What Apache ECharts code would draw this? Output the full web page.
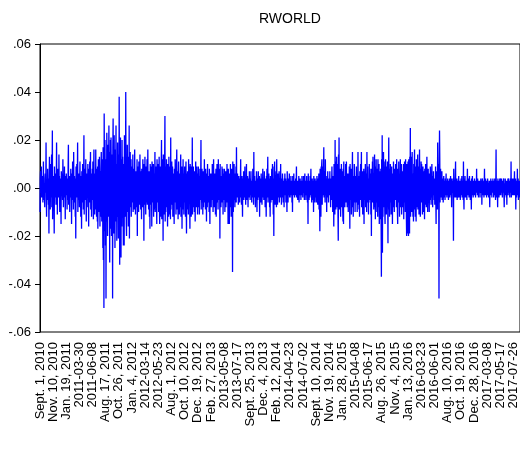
<!DOCTYPE html>
<html>
<head>
<meta charset="utf-8">
<script src="https://cdn.jsdelivr.net/npm/echarts@6/dist/echarts.min.js"></script>
<style>html,body{margin:0;padding:0;background:#fff}#c{width:520px;height:450px}</style>
</head>
<body>
<div id="c"></div>
<script>
// Daily returns, RWORLD, weekdays from 2010-09-01
const rworld = [
// 0-49
-.010,.004,.007,-.002,.003,.009,-.004,.001,-.003,.005,
.002,-.006,.003,.011,-.001,-.005,.002,.001,-.008,.004,
.006,-.002,.001,.019,-.004,-.012,.003,.002,-.005,.008,
-.001,.004,-.007,.002,-.019,.005,.013,-.002,.001,-.009,
.003,.010,-.004,-.001,.014,-.008,.002,.024,-.013,.002,
// 50-99
-.003,.005,.002,-.006,-.019,.009,.001,-.004,.006,-.002,
.003,-.007,.002,.019,-.005,.001,-.011,.004,.008,-.003,
.002,-.004,.014,-.001,.005,-.010,.002,.001,-.006,.004,
-.015,.007,.002,-.003,.006,-.001,-.005,.012,.003,-.008,
.004,.001,-.003,.009,-.004,.002,-.013,.005,.003,-.002,
// 100-149
.006,-.003,.001,-.009,.004,.002,-.005,.010,.018,-.007,
.002,-.003,.005,-.010,.003,.001,-.004,.008,-.001,.003,
-.015,.006,.002,-.005,.011,-.003,.004,-.009,.015,-.004,
.001,.005,-.006,.003,-.012,.004,-.021,.009,.002,-.004,
.010,-.003,.003,.019,-.010,.001,-.005,.006,-.002,.004,
// 150-199
-.008,.003,.011,-.004,.002,-.012,.005,.001,-.017,.007,
.003,-.006,.010,-.002,.004,-.009,.003,.022,-.011,.002,
-.004,.008,.001,-.005,.012,-.003,-.014,.006,.003,-.008,
.005,-.002,.010,-.004,.003,-.016,.008,.002,-.006,.011,
-.003,.004,.015,-.009,.001,.006,-.012,.003,-.003,.008,
// 200-249
-.005,.011,.003,-.013,.004,.016,-.008,.002,-.011,.006,
.003,-.009,.016,-.003,.008,-.012,.005,.001,-.014,.009,
-.017,.004,.012,-.006,.002,-.010,.013,.003,-.016,.007,
.003,-.012,.008,.015,-.007,-.014,.012,-.004,.006,-.025,
.017,-.030,.013,-.050,.031,.008,-.018,.020,.004,-.024,
// 250-299
.012,-.046,.010,-.008,.023,-.014,.006,-.020,.018,.003,
-.012,.009,.026,-.006,.015,-.031,.012,-.010,.020,-.017,
.021,.004,-.020,.014,-.011,.007,-.046,.017,.029,-.013,
.008,-.019,.022,-.005,.012,-.025,.016,-.009,.006,.026,
-.014,.010,-.022,.007,-.012,.019,-.006,.014,-.021,.011,
// 300-349
-.010,.038,.008,-.032,.015,-.007,.021,-.013,-.029,.012,
.006,-.016,.020,-.009,.013,.004,-.011,-.024,.010,-.004,
-.024,.022,-.008,.014,.003,-.012,.040,.007,-.015,-.020,
.011,-.006,.018,-.010,.004,.013,-.016,.007,-.009,.026,
-.021,.010,-.004,.015,-.008,.003,.012,-.012,.006,-.003,
// 350-399
.009,-.006,.003,.014,-.010,.002,-.005,.008,.001,-.009,
.016,-.004,.006,-.011,.002,.007,-.008,.004,-.002,.012,
-.020,.005,.009,-.006,.002,-.010,.011,-.003,.006,-.007,
.014,-.002,.004,-.009,.007,.001,-.013,.008,-.004,.003,
-.008,.012,.002,-.005,.007,-.022,.010,.004,-.007,.013,
// 400-449
-.004,.006,-.011,.002,.009,-.006,.002,.012,-.007,.003,
.016,-.005,.001,-.009,.007,.004,-.012,.002,-.017,.010,
.005,-.003,.009,-.007,.002,-.016,.011,.004,-.006,.008,
-.002,.010,-.012,.003,.006,-.009,.001,.015,-.010,.004,
-.005,.009,.002,-.007,-.015,.012,.002,-.006,.010,-.004,
// 450-499
.007,-.010,.004,.013,-.006,-.015,.009,.002,-.012,.006,
-.004,.010,.020,-.013,.005,-.008,.012,.002,-.022,.014,
.007,-.011,.004,-.007,.013,.030,-.014,.006,-.010,.009,
-.003,.012,-.008,.005,.002,-.016,.010,-.004,.007,-.012,
.013,-.006,.003,-.011,.009,.002,-.013,.021,-.009,.005,
// 500-549
-.007,.011,.002,-.005,.009,-.012,.004,.001,-.009,.006,
-.015,.008,.003,-.006,.012,-.002,.005,-.011,.002,.009,
.016,-.009,.004,-.004,.007,-.013,.002,.011,-.006,.003,
-.011,.006,.002,-.008,.005,.014,-.012,.004,-.003,.009,
-.017,.007,.002,-.009,.012,-.005,.003,-.011,.006,.001,
// 550-599
.009,-.006,.004,-.012,.002,.011,-.007,-.019,.006,.002,
-.009,.007,-.003,.005,-.011,.012,.001,-.006,.009,-.004,
-.017,.010,.002,-.008,.005,-.012,.009,.002,-.005,.021,
-.011,.006,-.003,.009,-.008,.004,.002,-.010,.007,-.002,
-.014,.005,.011,-.004,.002,-.008,.009,-.005,.003,-.011,
// 600-649
.006,-.004,.009,-.008,.002,.005,-.011,.002,.008,-.005,
-.002,.004,.020,-.009,.003,-.006,.008,-.002,.005,-.011,
.002,.007,-.008,.004,-.003,.012,-.006,.001,.005,-.009,
.008,-.002,.004,-.014,.006,.002,-.008,.010,-.004,.003,
-.006,.005,.001,-.010,.008,-.003,-.015,.006,.002,-.005,
// 650-699
.004,-.008,.006,.002,-.005,.010,-.003,.002,-.010,.005,
.012,-.004,.003,-.008,.006,-.002,.004,-.011,.002,.008,
-.012,.005,-.002,.010,-.006,.002,.004,-.009,.012,-.003,
.006,-.005,.002,.008,-.021,.010,-.004,.003,-.008,.005,
.002,-.006,.009,-.004,.002,.008,-.011,.004,-.002,.006,
// 700-749
-.005,.008,.002,-.010,.004,-.002,.007,-.008,.002,.005,
-.004,.010,-.006,.003,.002,-.015,.008,-.003,.005,-.009,
-.015,.006,.002,-.008,.010,-.004,.002,-.012,.008,.003,
-.006,.004,-.035,.011,.005,-.010,.002,.008,.010,-.005,
.003,-.008,.006,.002,-.004,.009,-.006,.017,-.002,.004,
// 750-799
-.004,.006,-.002,.003,-.007,.002,.005,-.003,.001,-.006,
.004,-.002,.003,.012,-.004,.003,-.007,.002,.005,-.002,
-.012,.004,.001,-.003,.007,-.005,.002,.002,-.004,.009,
-.002,.003,-.007,.004,.001,.010,-.005,.002,-.003,.005,
.002,-.008,.004,-.001,.003,-.004,.007,-.002,.002,-.005,
// 800-849
.004,-.003,.007,-.002,.002,-.006,.003,.001,-.004,.008,
-.002,.004,-.007,.015,-.003,.002,.005,-.004,.002,-.008,
.003,.001,-.004,.007,-.002,-.010,.004,.002,-.005,.003,
.007,-.002,.002,-.004,.005,-.012,.003,-.001,.004,-.006,
.002,.006,-.003,.002,-.007,.004,-.002,.008,-.004,.001,
// 850-899
.003,-.005,.002,.007,-.004,.002,-.008,.004,.001,-.003,
-.012,.005,-.002,.008,-.004,.003,.013,-.006,.002,-.004,
.006,-.003,.002,-.008,.004,-.012,.005,.001,-.006,.003,
-.002,.008,-.005,.002,.010,-.004,.002,-.011,.004,-.020,
.009,-.004,.011,.002,-.007,.005,-.003,.002,.007,-.008,
// 900-949
.012,-.003,.004,-.007,.002,.006,-.004,.002,-.002,.007,
-.006,.003,.001,-.004,.002,.010,-.003,.004,-.007,.002,
.004,-.002,.006,-.004,.001,-.006,.003,.002,-.008,.004,
-.002,.006,-.003,.002,.004,-.006,.002,.003,-.004,-.010,
.007,-.002,.003,-.006,.002,.004,-.003,.001,.006,-.004,
// 950-999
.002,-.004,.003,-.002,.005,-.003,.001,.002,-.006,.003,
-.010,.005,-.002,.002,-.003,.006,-.001,.002,-.004,.003,
.002,-.003,.004,-.003,.001,.009,-.004,.002,-.002,.003,
-.005,.002,.003,-.002,.005,-.006,.001,.002,-.003,.004,
-.002,.003,-.005,.002,.001,-.003,.005,-.002,.002,-.004,
// 1000-1049
.003,-.002,.005,-.002,.002,-.005,.002,.006,-.003,.001,
.002,-.005,.003,-.001,.005,-.003,.002,-.006,.003,-.015,
.006,-.002,.002,-.005,.003,.001,-.004,.005,-.002,.002,
.008,-.003,.002,-.006,.002,.004,-.002,.003,-.005,.001,
-.010,.005,-.002,.003,.002,-.006,.004,-.001,.002,-.004,
// 1050-1099
.003,-.006,.002,.005,-.003,.002,-.007,.004,.001,-.004,
.006,-.009,.002,-.006,-.018,.008,.003,-.010,-.012,.009,
-.004,.010,.012,-.007,.004,-.003,.009,-.002,.005,.017,
-.004,.007,-.002,.003,-.006,.012,-.002,.004,-.003,.002,
-.010,.005,.002,-.004,.007,-.002,.003,-.006,.004,-.001,
// 1100-1149
.004,-.003,.007,-.002,.002,-.008,.004,.002,-.005,.003,
.009,-.004,.002,-.010,.005,-.003,.002,-.016,.010,-.006,
.004,-.011,.020,-.005,.003,-.009,.011,-.002,.013,-.008,
.005,-.004,.010,-.012,-.022,.014,-.006,.021,-.009,.004,
-.003,.008,.002,-.012,.006,-.004,.010,-.008,.003,-.005,
// 1150-1199
.007,-.009,-.014,.008,-.015,.011,-.004,.005,.002,-.008,
.004,-.003,.010,-.006,.002,.011,-.005,.003,-.008,.006,
-.002,.006,-.010,.004,.002,-.007,.009,-.003,-.017,.010,
.004,-.005,.002,.008,-.011,.003,-.004,.006,.015,-.008,
.003,-.012,.005,.002,-.006,.010,-.003,.004,-.010,.002,
// 1200-1249
.005,-.006,.003,.009,-.004,.002,-.010,.004,-.002,.015,
-.007,.004,.002,-.009,.005,-.012,.007,-.003,.002,.010,
-.005,.003,.015,-.008,.004,-.002,.007,-.011,.002,.005,
-.004,.008,-.015,.003,.007,-.005,.002,.010,-.008,.004,
-.003,.006,-.010,.015,-.004,.002,.009,-.006,.004,-.011,
// 1250-1299
.004,-.006,.010,-.003,.002,.008,-.005,.002,-.011,.006,
-.020,.008,-.004,.002,.011,-.006,.013,-.003,.005,-.009,
.006,-.002,.014,-.008,.003,-.013,.009,-.004,.012,-.006,
.002,-.010,.005,.008,-.012,.012,-.005,.003,-.008,.010,
-.015,.004,.007,-.011,.002,-.013,.008,-.016,-.037,.012,
// 1300-1349
-.018,.022,-.027,.010,-.012,.006,.015,-.008,.011,-.004,
.005,-.010,-.015,.008,.012,-.006,.003,-.011,.009,.004,
-.008,.011,-.004,-.023,.006,.002,.021,-.009,.005,-.012,
.008,-.003,.010,-.006,.004,-.011,.002,.009,-.005,.006,
-.015,.005,.002,-.008,.011,-.004,.003,-.010,.008,-.002,
// 1350-1399
.006,-.005,.010,-.002,.004,-.008,.012,-.004,.002,-.010,
-.015,.008,.003,-.006,.011,-.003,.005,-.012,.004,.002,
.012,-.008,.002,-.005,.010,-.011,.004,.007,-.004,.003,
-.008,.005,.010,-.013,.003,-.006,.011,-.002,.004,-.010,
.012,-.005,.009,-.012,-.020,.010,-.004,.007,-.019,.011,
// 1400-1449
.008,-.020,.012,-.009,.005,-.019,.013,-.006,.025,-.012,
.009,-.005,.013,-.010,.004,.015,-.008,.006,-.012,.005,
-.014,.010,-.004,.008,.016,-.009,.003,-.012,.009,-.004,
-.014,.012,.002,-.008,.011,-.005,.014,-.009,.004,-.006,
.009,-.011,.005,.016,-.008,.003,-.012,.008,-.004,.011,
// 1450-1499
-.006,.010,-.003,.005,-.011,.004,.009,-.005,.002,-.010,
.007,-.003,-.013,.008,.002,-.007,.010,-.004,.005,-.008,
.003,.013,-.006,.004,-.010,.002,.008,-.005,.003,-.004,
-.010,.006,.002,-.005,.009,-.003,.004,-.007,.002,.006,
.010,-.004,.002,-.008,.005,-.003,.007,-.002,.004,-.005,
// 1500-1549
.004,-.007,.003,-.002,.009,-.005,-.015,.007,-.003,.004,
.002,-.009,.019,.005,-.004,.010,.003,-.046,.009,.024,
.012,-.006,.004,.008,-.003,.005,-.004,.002,.007,-.005,
.003,-.002,.004,-.006,.001,.005,-.003,.002,-.004,.003,
-.005,.004,.001,-.003,.006,-.002,.001,-.004,.003,-.002,
// 1550-1599
.004,-.003,.002,-.005,.001,.003,-.002,.004,-.004,.001,
-.003,.005,-.002,.002,.004,-.008,.002,.003,-.002,.001,
.004,-.003,-.022,.008,-.002,.003,.002,-.004,.002,.005,
.011,-.004,.002,-.003,.002,.004,-.005,.001,.003,-.002,
-.004,.002,.005,-.002,.003,-.004,.001,.002,-.005,.003,
// 1600-1649
-.002,.004,-.003,.002,.005,-.004,.002,-.002,.003,-.005,
.011,-.003,-.009,.004,.002,-.003,.005,-.004,.002,.001,
-.004,.003,.002,-.005,.002,.008,-.003,.001,.004,-.002,
.003,-.004,.002,.005,-.002,.001,-.005,.003,.002,-.002,
-.009,.004,-.001,.002,.005,-.003,.002,-.004,.003,.001,
// 1650-1699
.002,-.003,.004,-.002,.001,.003,-.004,.002,.002,-.002,
.008,-.002,.002,-.003,.004,-.001,.002,-.004,.003,.001,
-.002,.003,.002,-.004,.002,-.002,.004,-.002,.001,.003,
-.007,.002,.004,-.002,.003,-.003,.001,.002,-.004,.002,
.008,-.002,.002,-.003,.004,.001,-.002,.003,-.004,.002,
// 1700-1749
.003,-.002,.004,-.003,.002,.002,-.004,.001,.003,-.002,
-.008,.003,.002,-.002,.004,-.003,.001,.002,-.004,.003,
.002,-.002,.004,-.001,.003,-.004,.002,.002,-.003,.004,
-.002,.003,-.005,.002,.016,-.003,.002,-.004,.003,.001,
-.008,.004,-.002,.003,.002,-.004,.002,-.002,.004,-.003,
// 1750-1799
.002,.004,-.003,.002,-.002,.004,-.002,.003,-.004,.001,
.003,-.002,.002,.004,-.003,-.008,.002,.001,-.003,.004,
-.002,.003,.002,-.004,.002,-.007,.003,.001,-.002,.004,
-.003,.002,.004,-.002,.001,.003,-.004,.002,-.002,.004,
-.002,.011,-.004,.002,.003,-.002,.004,-.003,.001,.002,
// 1800-1825
-.003,.004,-.002,.002,.007,-.003,.002,-.002,.004,-.009,
.003,.002,-.004,.002,-.002,.008,-.003,.002,.004,-.005,
.002,-.002,.003,-.004,.002,.003
];

const tickLabels = [
"Sept. 1, 2010","Nov. 10, 2010","Jan. 19, 2011","2011-03-30","2011-06-08",
"Aug. 17, 2011","Oct. 26, 2011","Jan. 4, 2012","2012-03-14","2012-05-23",
"Aug. 1, 2012","Oct. 10, 2012","Dec. 19, 2012","Feb. 27, 2013","2013-05-08",
"2013-07-17","Sept. 25, 2013","Dec. 4, 2013","Feb. 12, 2014","2014-04-23",
"2014-07-02","Sept. 10, 2014","Nov. 19, 2014","Jan. 28, 2015","2015-04-08",
"2015-06-17","Aug. 26, 2015","Nov. 4, 2015","Jan. 13, 2016","2016-03-23",
"2016-06-01","Aug. 10, 2016","Oct. 19, 2016","Dec. 28, 2016","2017-03-08",
"2017-05-17","2017-07-26"
];

const yTicks = [-0.06, -0.04, -0.02, 0, 0.02, 0.04, 0.06];

// weekday dates as categories
const categories = [];
(function(){
  const d = new Date(Date.UTC(2010, 8, 1));
  while (categories.length < rworld.length) {
    const wd = d.getUTCDay();
    if (wd !== 0 && wd !== 6) categories.push(d.toISOString().slice(0,10));
    d.setUTCDate(d.getUTCDate() + 1);
  }
})();

const FONT = "'Liberation Sans', Arial, sans-serif";
const chart = echarts.init(document.getElementById('c'), null, {renderer: 'canvas'});
chart.setOption({
  animation: false,
  backgroundColor: '#fff',
  title: {
    text: 'RWORLD', left: 285, top: 7, textAlign: 'center',
    textStyle: {fontFamily: FONT, fontSize: 14, fontWeight: 'normal', color: '#000'}
  },
  grid: {left: 40, right: -2, top: 44, bottom: 118, show: true, borderColor: '#000', borderWidth: 1, backgroundColor: 'transparent'},
  xAxis: {
    type: 'category', data: categories, boundaryGap: false,
    axisLine: {lineStyle: {color: '#000', width: 1}},
    axisTick: {show: true, interval: 24, length: 5, lineStyle: {color: '#000'}},
    axisLabel: {
      interval: 49, rotate: 90, margin: 10, color: '#000', fontFamily: FONT, fontSize: 13,
      formatter: function (v, i) { const k = i / 50; return Number.isInteger(k) && tickLabels[k] ? tickLabels[k] : ''; }
    },
    splitLine: {show: false}
  },
  yAxis: {
    type: 'value', min: yTicks[0], max: yTicks[yTicks.length-1], interval: 0.02,
    axisLine: {show: true, lineStyle: {color: '#000', width: 1}},
    axisTick: {show: true, length: 5, lineStyle: {color: '#000'}},
    axisLabel: {
      margin: 9, color: '#000', fontFamily: FONT, fontSize: 13,
      formatter: function (v) {
        const s = Math.abs(v).toFixed(2).replace(/^0/, '');
        return (v < -1e-9 ? '-' : '') + s;
      }
    },
    splitLine: {show: false}
  },
  series: [{
    type: 'line', data: rworld, showSymbol: false, symbol: 'none',
    lineStyle: {color: '#0000ff', width: 1.3}, itemStyle: {color: '#0000ff'},
    sampling: null, silent: true
  }]
});
</script>
</body>
</html>
